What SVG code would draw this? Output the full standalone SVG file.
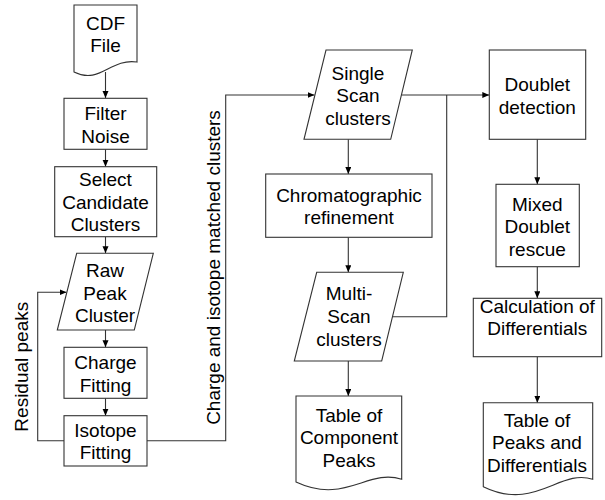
<svg xmlns="http://www.w3.org/2000/svg" width="605" height="500" viewBox="0 0 605 500">
<defs>
<marker id="arr" markerUnits="userSpaceOnUse" markerWidth="8" markerHeight="7" refX="7" refY="3" orient="auto">
<path d="M0,0 L7,3 L0,6 z" fill="#000"/>
</marker>
<style>
.s{fill:#fff;stroke:#333;stroke-width:1.1}
.c{fill:none;stroke:#333;stroke-width:1.1}
.a{marker-end:url(#arr)}
text{font-family:"Liberation Sans",Arial,sans-serif;font-size:19px;fill:#000;text-anchor:middle}
</style>
</defs>
<g id="connectors">
<path class="c a" d="M105.5,72 V98"/>
<path class="c a" d="M105.5,149.3 V166.7"/>
<path class="c a" d="M105.5,236.7 V253.3"/>
<path class="c a" d="M105.5,330 V347.3"/>
<path class="c a" d="M105.5,398.3 V415.7"/>
<path class="c a" d="M64,440.7 H37.7 V292.3 H66.5"/>
<path class="c a" d="M147,440.7 H225.7 V95 H314.5"/>
<path class="c a" d="M401.4,95 H489.3"/>
<path class="c" d="M392.5,316.7 H446.7 V95"/>
<path class="c a" d="M348.3,139.3 V174"/>
<path class="c a" d="M348.3,237.3 V272.3"/>
<path class="c a" d="M348.3,361 V396"/>
<path class="c a" d="M537.3,139.3 V184.3"/>
<path class="c a" d="M537.3,266.7 V298.3"/>
<path class="c a" d="M537.3,356.7 V402.7"/>
</g>
<g id="lbl-residual"><text transform="translate(28,366.7) rotate(-90)">Residual peaks</text></g>
<g id="lbl-matched"><text transform="translate(220,267.5) rotate(-90)">Charge and isotope matched clusters</text></g>
<g id="cdf">
<path class="s" d="M74,5 H137 V62 C110,58 100,85 74,72 Z"/>
<text x="105.5" y="30">CDF</text><text x="105.5" y="52">File</text>
</g>
<g id="filter">
<rect class="s" x="64" y="98.3" width="83" height="51"/>
<text x="105.5" y="120">Filter</text><text x="105.5" y="142.5">Noise</text>
</g>
<g id="select">
<rect class="s" x="54.7" y="166.7" width="102" height="70"/>
<text x="105.5" y="186">Select</text><text x="105.5" y="208.5">Candidate</text><text x="105.5" y="231">Clusters</text>
</g>
<g id="raw">
<path class="s" d="M76.7,253.3 H153.3 L134.3,330 H57.3 Z"/>
<text x="105" y="277">Raw</text><text x="105" y="299.5">Peak</text><text x="105" y="322">Cluster</text>
</g>
<g id="charge">
<rect class="s" x="64" y="347.3" width="83" height="51"/>
<text x="105.5" y="369">Charge</text><text x="105.5" y="391.5">Fitting</text>
</g>
<g id="isotope">
<rect class="s" x="64" y="415.7" width="83" height="50.3"/>
<text x="105.5" y="436.5">Isotope</text><text x="105.5" y="459">Fitting</text>
</g>
<g id="single">
<path class="s" d="M326,50 H412.3 L390.7,139.3 H304 Z"/>
<text x="358" y="79.5">Single</text><text x="358" y="102">Scan</text><text x="358" y="124.5">clusters</text>
</g>
<g id="chrom">
<rect class="s" x="265.7" y="174" width="166.3" height="63.3"/>
<text x="349" y="201.5">Chromatographic</text><text x="349" y="224">refinement</text>
</g>
<g id="multi">
<path class="s" d="M316.7,272.3 H403.3 L381.7,361 H294.3 Z"/>
<text x="349" y="300">Multi-</text><text x="349" y="323">Scan</text><text x="349" y="346">clusters</text>
</g>
<g id="table1">
<path class="s" d="M296,396 H401.7 V479.3 C368,468 345,505 296,482 Z"/>
<text x="349" y="421.5">Table of</text><text x="349" y="444">Component</text><text x="349" y="466.5">Peaks</text>
</g>
<g id="doublet">
<rect class="s" x="489.3" y="50" width="96.4" height="89.3"/>
<text x="537.3" y="91">Doublet</text><text x="537.3" y="113.5">detection</text>
</g>
<g id="mixed">
<rect class="s" x="496" y="184.3" width="83.3" height="82.4"/>
<text x="537.3" y="210.5">Mixed</text><text x="537.3" y="233">Doublet</text><text x="537.3" y="255.5">rescue</text>
</g>
<g id="calc">
<rect class="s" x="473.3" y="298.3" width="128.4" height="58.4"/>
<text x="537.3" y="312.5">Calculation of</text><text x="537.3" y="335">Differentials</text>
</g>
<g id="table2">
<path class="s" d="M483.3,402.7 H592.7 V479.3 C560,468 535,512 483.3,486.7 Z"/>
<text x="537" y="426.5">Table of</text><text x="537" y="449">Peaks and</text><text x="537" y="471.5">Differentials</text>
</g>
</svg>
